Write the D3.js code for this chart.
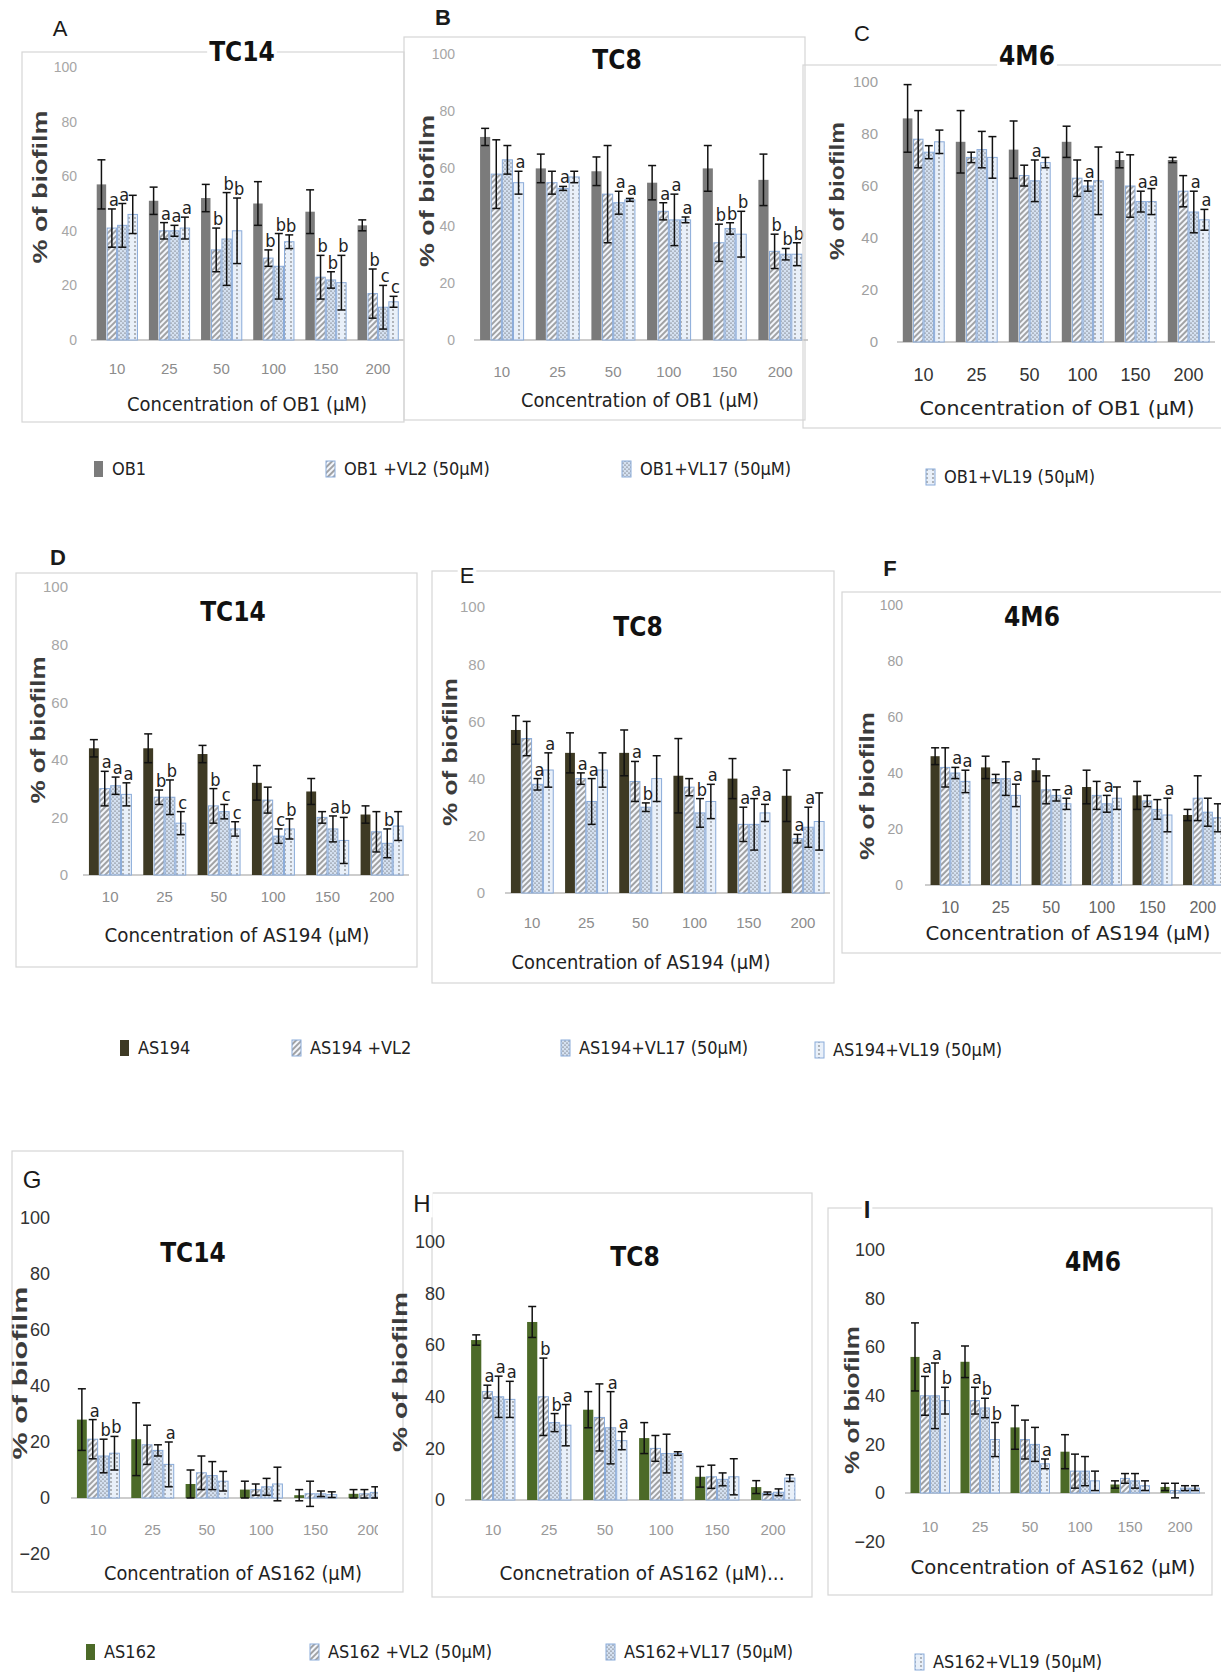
<!DOCTYPE html>
<html>
<head>
<meta charset="utf-8">
<script src="https://cdn.jsdelivr.net/npm/d3@7"></script>
<style>
  body { margin: 0; background: #fff; }
</style>
</head>
<body>
<svg id="fig" width="1221" height="1677"></svg>
<script>
const NARROW = '"Liberation Sans Narrow","DejaVu Sans Condensed",sans-serif';
const SANS = '"Liberation Sans",Arial,sans-serif';

// --- data ---
const concentrations = ["10", "25", "50", "100", "150", "200"];
const yTicks = [0, 20, 40, 60, 80, 100];
const yTicksNeg = [-20, 0, 20, 40, 60, 80, 100];

const ob1Legend = ["OB1", "OB1 +VL2 (50μM)", "OB1+VL17 (50μM)", "OB1+VL19 (50μM)"];
const as194Legend = ["AS194", "AS194 +VL2", "AS194+VL17 (50μM)", "AS194+VL19 (50μM)"];
const as162Legend = ["AS162", "AS162 +VL2 (50μM)", "AS162+VL17 (50μM)", "AS162+VL19 (50μM)"];

// rows = concentrations, columns = [drug, +VL2, +VL17, +VL19]
const tc14Ob1Mean = [[57, 41, 42, 46], [51, 40, 40, 41], [52, 33, 37, 40], [50, 30, 27, 36], [47, 23, 22, 21], [42, 17, 12, 14]];
const tc14Ob1Err = [[9, 7, 8, 7], [5, 3, 2, 4], [5, 8, 17, 12], [8, 3, 12, 2.5], [8, 8, 3, 10], [2, 9, 8, 2]];
const tc14Ob1Sig = [" aa ", " aaa", " bbb", " bbb", " bbb", " bcc"];

const tc8Ob1Mean = [[71, 58, 63, 55], [60, 55, 53, 57], [59, 51, 48, 49], [55, 45, 42, 42], [60, 34, 39, 37], [56, 31, 30, 30]];
const tc8Ob1Err = [[3, 12, 5, 4], [5, 4, 0.7, 2], [5, 17, 4, 0.5], [6, 3, 9, 1], [8, 6.5, 2, 8], [9, 6, 2, 4]];
const tc8Ob1Sig = ["   a", "  a ", "  aa", " aaa", " bbb", " bbb"];

const m46Ob1Mean = [[86, 78, 73, 77], [77, 71, 74, 71], [74, 64, 62, 69], [77, 63, 60, 62], [70, 60, 54, 54], [70, 58, 50, 47]];
const m46Ob1Err = [[13, 11, 2.5, 4.5], [12, 2, 7, 8], [11, 4, 8, 2], [6, 7, 2, 13], [3, 12, 4, 5], [1, 6, 8, 4]];
const m46Ob1Sig = ["    ", "    ", "  a ", "  a ", "  aa", "  aa"];

const tc14As194Mean = [[44, 30, 31, 28], [44, 27, 27, 18], [42, 24, 22, 16], [32, 26, 13.5, 16], [29, 20, 16, 12], [21, 15, 11, 17]];
const tc14As194Err = [[3, 6, 3, 4], [5, 2.5, 6, 4], [3, 6, 2.5, 2.5], [6, 4.5, 2.5, 3.5], [4.5, 2, 4.5, 8], [3, 7, 5, 5]];
const tc14As194Sig = [" aaa", " bbc", " bcc", "  cb", "  ab", "  b "];

const tc8As194Mean = [[57, 54, 38, 43], [49, 40, 32, 43], [49, 39, 30, 40], [41, 37, 28, 32], [40, 24, 24, 28], [34, 19, 23, 25]];
const tc8As194Err = [[5, 6, 2, 6], [7, 2, 8, 6], [8, 7, 1.5, 8], [13, 3, 5, 6], [7, 6, 9, 3], [9, 1.5, 7, 10]];
const tc8As194Sig = ["  aa", " aa ", " ab ", "  ba", " aaa", " aa "];

const m46As194Mean = [[46, 42, 40, 37], [42, 38, 38, 32], [41, 34, 32, 29], [35, 32, 29, 31], [32, 30, 27, 25], [25, 31, 26, 24]];
const m46As194Err = [[3, 7, 2, 4], [4, 1.5, 6, 4], [4, 5, 2, 2], [6, 5, 3, 4], [5, 2, 3.5, 6], [2, 8, 5, 5]];
const m46As194Sig = ["  aa", "   a", "   a", "  a ", "   a", "    "];

const tc14As162Mean = [[28, 21, 15, 16], [21, 19, 17, 12], [5, 9, 8, 6], [3, 3, 4, 5], [1, 1.5, 1.5, 1.2], [1.5, 1.5, 2, 1.5]];
const tc14As162Err = [[11, 7, 6, 6], [13, 7, 2, 8], [5, 6, 5, 3.5], [3, 2, 3, 6], [2, 4.5, 1, 1], [1.5, 1.5, 2, 2]];
const tc14As162Sig = [" abb", "   a", "    ", "    ", "    ", "    "];

const tc8As162Mean = [[62, 42, 40, 39], [69, 40, 30, 29], [35, 32, 28, 23], [24, 20, 18, 18], [9, 9, 8, 9], [5, 2.6, 3, 8.5]];
const tc8As162Err = [[2, 2.5, 8, 7], [6, 15, 3.5, 8], [7, 13, 14, 3.5], [6, 5, 7.5, 0.7], [4, 4.5, 2.5, 7], [2.5, 0.5, 1.3, 1.3]];
const tc8As162Sig = [" aaa", " bba", "  aa", "    ", "    ", "    "];

const m46As162Mean = [[56, 40, 40, 38], [54, 38, 35, 22], [27, 22, 20, 12], [17, 9, 9, 5], [3.5, 6, 5, 3], [2.5, 1, 2, 2]];
const m46As162Err = [[14, 8, 13.5, 5.5], [6.5, 5.5, 4, 7], [9, 8, 7, 2], [7, 7, 6, 4], [1.5, 2, 3, 2], [1.5, 3, 1, 1]];
const m46As162Sig = [" aab", " abb", "   a", "    ", "    ", "    "];

const OB1_COLOR = "#7b7b7b";
const AS194_COLOR = "#3e3a24";
const AS162_COLOR = "#4c6a28";

// --- svg + patterns ---
const svg = d3.select("#fig");
svg.append("rect").attr("width", 1221).attr("height", 1677).attr("fill", "#fff");
const defs = svg.append("defs");

function addPattern(id, w, h, bg) {
  const p = defs.append("pattern").attr("id", id)
    .attr("patternUnits", "userSpaceOnUse").attr("width", w).attr("height", h);
  p.append("rect").attr("width", w).attr("height", h).attr("fill", bg);
  return p;
}
addPattern("hatch", 4, 4, "#f4f7fc")
  .attr("patternTransform", "rotate(45)")
  .append("line").attr("x1", 1).attr("y1", 0).attr("x2", 1).attr("y2", 4)
  .attr("stroke", "#4d4d4d").attr("stroke-width", 1);
const dots = addPattern("dots", 4, 4, "#d5e1f1");
dots.append("circle").attr("cx", 1).attr("cy", 1).attr("r", 0.6).attr("fill", "#3a3a3a");
dots.append("circle").attr("cx", 3).attr("cy", 3).attr("r", 0.6).attr("fill", "#3a3a3a");
addPattern("sparse", 6, 4, "#e9f0f9")
  .append("circle").attr("cx", 3).attr("cy", 2).attr("r", 0.65).attr("fill", "#444");

const fillFor = (si, color) => [color, "url(#hatch)", "url(#dots)", "url(#sparse)"][si];
const OUTLINE = "#8aabd9";

// --- panel layout ---
const panels = [
  { id: "A", title: "TC14", xTitle: "Concentration of OB1 (μM)", mean: tc14Ob1Mean, err: tc14Ob1Err, sig: tc14Ob1Sig, color: OB1_COLOR,
    ticks: yTicks, frame: [22, 52, 404, 422], label: [60, 28, 22, "normal"], titlePos: [242, 52], titleBg: true,
    xr: [91, 404], zeroY: 340, topY: 67, tickX: 77, tick: ["#a6a6a6", 14], catY: 369, cat: ["#8c8c8c", 15],
    xt: [247, 404, 240], yt: [40, 187, 153] },
  { id: "B", title: "TC8", xTitle: "Concentration of OB1 (μM)", mean: tc8Ob1Mean, err: tc8Ob1Err, sig: tc8Ob1Sig, color: OB1_COLOR,
    ticks: yTicks, frame: [404, 37, 805, 420], label: [443, 17, 22, "bold"], titlePos: [617, 60],
    xr: [474, 808], zeroY: 340, topY: 54, tickX: 455, tick: ["#a6a6a6", 14], catY: 372, cat: ["#8c8c8c", 15],
    xt: [640, 400, 238], yt: [427, 191, 152] },
  { id: "C", title: "4M6", xTitle: "Concentration of OB1  (μM)", mean: m46Ob1Mean, err: m46Ob1Err, sig: m46Ob1Sig, color: OB1_COLOR,
    ticks: yTicks, frame: [803, 65, 1225, 428], label: [862, 33, 22, "normal"], titlePos: [1027, 56], titleBg: true,
    xr: [897, 1215], zeroY: 342, topY: 82, tickX: 878, tick: ["#a0a0a0", 15], catY: 375, cat: ["#333", 18],
    xt: [1057, 408, 275], yt: [837, 191, 138] },
  { id: "D", title: "TC14", xTitle: "Concentration of AS194  (μM)", mean: tc14As194Mean, err: tc14As194Err, sig: tc14As194Sig, color: AS194_COLOR,
    ticks: yTicks, frame: [16, 573, 417, 967], label: [58, 557, 22, "bold"], titlePos: [233, 612],
    xr: [83, 409], zeroY: 875, topY: 587, tickX: 68, tick: ["#a6a6a6", 15], catY: 897, cat: ["#8c8c8c", 15],
    xt: [237, 935, 265], yt: [38, 730, 147] },
  { id: "E", title: "TC8", xTitle: "Concentration of AS194 (μM)", mean: tc8As194Mean, err: tc8As194Err, sig: tc8As194Sig, color: AS194_COLOR,
    ticks: yTicks, frame: [432, 571, 834, 983], label: [467, 575, 22, "normal"], titlePos: [638, 627],
    xr: [505, 830], zeroY: 893, topY: 607, tickX: 485, tick: ["#a6a6a6", 15], catY: 923, cat: ["#8c8c8c", 15],
    xt: [641, 962, 259], yt: [450, 752, 148] },
  { id: "F", title: "4M6", xTitle: "Concentration of AS194 (μM)", mean: m46As194Mean, err: m46As194Err, sig: m46As194Sig, color: AS194_COLOR,
    ticks: yTicks, frame: [842, 592, 1225, 953], label: [890, 568, 22, "bold"], titlePos: [1032, 617],
    xr: [925, 1228], zeroY: 885, topY: 605, tickX: 903, tick: ["#a0a0a0", 14], catY: 907, cat: ["#666", 16],
    xt: [1068, 933, 285], yt: [867, 786, 148] },
  { id: "G", title: "TC14", xTitle: "Concentration of AS162 (μM)", mean: tc14As162Mean, err: tc14As162Err, sig: tc14As162Sig, color: AS162_COLOR,
    ticks: yTicksNeg, frame: [12, 1151, 403, 1592], label: [32, 1180, 24, "normal"], titlePos: [193, 1253],
    xr: [71, 397], clipX: 378, zeroY: 1498, topY: 1218, tickX: 50, tick: ["#333", 18], catY: 1530, cat: ["#999", 15],
    xt: [233, 1573, 258], yt: [20, 1373, 173] },
  { id: "H", title: "TC8", xTitle: "Concnetration of AS162   (μM)...", mean: tc8As162Mean, err: tc8As162Err, sig: tc8As162Sig, color: AS162_COLOR,
    ticks: yTicks, frame: [432, 1193, 812, 1597], label: [422, 1204, 24, "normal"], titlePos: [635, 1257],
    xr: [465, 801], zeroY: 1500, topY: 1242, tickX: 445, tick: ["#333", 18], catY: 1530, cat: ["#999", 15],
    xt: [642, 1573, 285], yt: [400, 1372, 160] },
  { id: "I", title: "4M6", xTitle: "Concentration of AS162 (μM)", mean: m46As162Mean, err: m46As162Err, sig: m46As162Sig, color: AS162_COLOR,
    ticks: yTicksNeg, frame: [828, 1208, 1212, 1595], label: [867, 1210, 24, "bold"], titlePos: [1093, 1262],
    xr: [905, 1205], zeroY: 1493, topY: 1250, tickX: 885, tick: ["#333", 18], catY: 1527, cat: ["#999", 15],
    xt: [1053, 1567, 285], yt: [852, 1400, 148] }
];

// white box behind a text node (for texts sitting on frame lines)
function backfill(g, textSel) {
  const b = textSel.node().getBBox();
  g.insert("rect", () => textSel.node())
    .attr("x", b.x - 2).attr("y", b.y).attr("width", b.width + 4).attr("height", b.height)
    .attr("fill", "#fff");
}

function drawPanel(p) {
  const g = svg.append("g").attr("class", "panel-" + p.id);
  const [fx0, fy0, fx1, fy1] = p.frame;
  g.append("rect")
    .attr("x", fx0).attr("y", fy0).attr("width", fx1 - fx0).attr("height", fy1 - fy0)
    .attr("fill", "none").attr("stroke", "#d6d6d6").attr("stroke-width", 1.2);

  const y = d3.scaleLinear().domain([0, 100]).range([p.zeroY, p.topY]);
  const x = d3.scaleBand().domain(concentrations).range(p.xr).paddingInner(0.2).paddingOuter(0.1);
  const xs = d3.scaleBand().domain(d3.range(4)).range([0, x.bandwidth()]);

  const clipId = "clip" + p.id;
  defs.append("clipPath").attr("id", clipId).append("rect")
    .attr("x", p.xr[0] - 40).attr("y", 0)
    .attr("width", (p.clipX || 1221) - p.xr[0] + 40).attr("height", 1677);
  const plot = g.append("g").attr("clip-path", `url(#${clipId})`);

  // y tick labels
  g.append("g").attr("transform", `translate(${p.tickX},0)`)
    .call(d3.axisLeft(y).tickValues(p.ticks).tickSize(0).tickPadding(0))
    .attr("font-family", SANS).attr("font-size", p.tick[1])
    .call((a) => a.select(".domain").remove())
    .selectAll("text").attr("fill", p.tick[0]);

  // baseline
  plot.append("line")
    .attr("x1", p.xr[0]).attr("x2", p.xr[1]).attr("y1", y(0)).attr("y2", y(0))
    .attr("stroke", "#bdbdbd").attr("stroke-width", 1.5);

  const rows = p.mean.flatMap((grp, gi) =>
    grp.map((v, si) => ({ gi, si, v, e: p.err[gi][si], s: p.sig[gi][si] }))
  );
  const cx = (d) => x(concentrations[d.gi]) + xs(d.si) + xs.bandwidth() / 2;

  plot.append("g").selectAll("rect").data(rows).join("rect")
    .attr("x", (d) => x(concentrations[d.gi]) + xs(d.si) + 0.5)
    .attr("y", (d) => y(d.v))
    .attr("width", xs.bandwidth() - 1)
    .attr("height", (d) => y(0) - y(d.v))
    .attr("fill", (d) => fillFor(d.si, p.color))
    .attr("stroke", (d) => (d.si ? OUTLINE : "none"))
    .attr("stroke-width", 1);

  // error bars
  const eb = plot.append("g").attr("stroke", "#111").attr("stroke-width", 1.5)
    .selectAll("g").data(rows).join("g");
  eb.append("line")
    .attr("x1", cx).attr("x2", cx)
    .attr("y1", (d) => y(d.v - d.e)).attr("y2", (d) => y(d.v + d.e));
  eb.append("line")
    .attr("x1", (d) => cx(d) - 4).attr("x2", (d) => cx(d) + 4)
    .attr("y1", (d) => y(d.v + d.e)).attr("y2", (d) => y(d.v + d.e));
  eb.append("line")
    .attr("x1", (d) => cx(d) - 4).attr("x2", (d) => cx(d) + 4)
    .attr("y1", (d) => y(d.v - d.e)).attr("y2", (d) => y(d.v - d.e));

  // significance letters
  plot.append("g").selectAll("text").data(rows.filter((d) => d.s.trim()))
    .join("text")
    .attr("x", (d) => cx(d) + 2).attr("y", (d) => y(d.v + d.e) - 3)
    .attr("text-anchor", "middle")
    .attr("font-family", NARROW).attr("font-size", 18).attr("fill", "#222")
    .text((d) => d.s);

  // category labels
  plot.append("g").attr("transform", `translate(0,${p.catY})`)
    .call(d3.axisBottom(x).tickSize(0).tickPadding(0))
    .attr("font-family", SANS).attr("font-size", p.cat[1])
    .call((a) => a.select(".domain").remove())
    .selectAll("text").attr("y", 0).attr("dy", "0.35em").attr("fill", p.cat[0]);

  // titles
  const t = g.append("text")
    .attr("x", p.titlePos[0]).attr("y", p.titlePos[1]).attr("dy", "0.35em")
    .attr("text-anchor", "middle").attr("font-family", NARROW)
    .attr("font-size", 26).attr("font-weight", "bold").attr("fill", "#111")
    .text(p.title);
  if (p.titleBg) backfill(g, t);

  const lab = g.append("text")
    .attr("x", p.label[0]).attr("y", p.label[1]).attr("dy", "0.35em")
    .attr("text-anchor", "middle").attr("font-family", SANS)
    .attr("font-size", p.label[2]).attr("font-weight", p.label[3]).attr("fill", "#1a1a1a")
    .text(p.id);
  backfill(g, lab);

  g.append("text")
    .attr("x", p.xt[0]).attr("y", p.xt[1]).attr("dy", "0.35em")
    .attr("text-anchor", "middle").attr("font-family", NARROW)
    .attr("font-size", 19).attr("fill", "#222")
    .attr("textLength", p.xt[2]).attr("lengthAdjust", "spacingAndGlyphs")
    .text(p.xTitle);

  g.append("text")
    .attr("transform", `translate(${p.yt[0]},${p.yt[1]}) rotate(-90)`)
    .attr("dy", "0.35em").attr("text-anchor", "middle")
    .attr("font-family", SANS).attr("font-size", 21).attr("font-weight", "bold").attr("fill", "#3c3c3c")
    .attr("textLength", p.yt[2]).attr("lengthAdjust", "spacingAndGlyphs")
    .text("% of biofilm");
}

panels.forEach(drawPanel);

// --- legends ---
function drawLegend(names, color, xs, yc, dys) {
  const g = svg.append("g");
  names.forEach((n, i) => {
    const yy = yc + dys[i];
    g.append("rect")
      .attr("x", xs[i]).attr("y", yy - 8).attr("width", 9).attr("height", 16)
      .attr("fill", fillFor(i, color)).attr("stroke", i ? OUTLINE : "none");
    g.append("text")
      .attr("x", xs[i] + 18).attr("y", yy).attr("dy", "0.35em")
      .attr("font-family", NARROW).attr("font-size", 18).attr("fill", "#222")
      .text(n);
  });
}
drawLegend(ob1Legend, OB1_COLOR, [94, 326, 622, 926], 469, [0, 0, 0, 8]);
drawLegend(as194Legend, AS194_COLOR, [120, 292, 561, 815], 1048, [0, 0, 0, 2]);
drawLegend(as162Legend, AS162_COLOR, [86, 310, 606, 915], 1652, [0, 0, 0, 10]);
</script>
</body>
</html>
